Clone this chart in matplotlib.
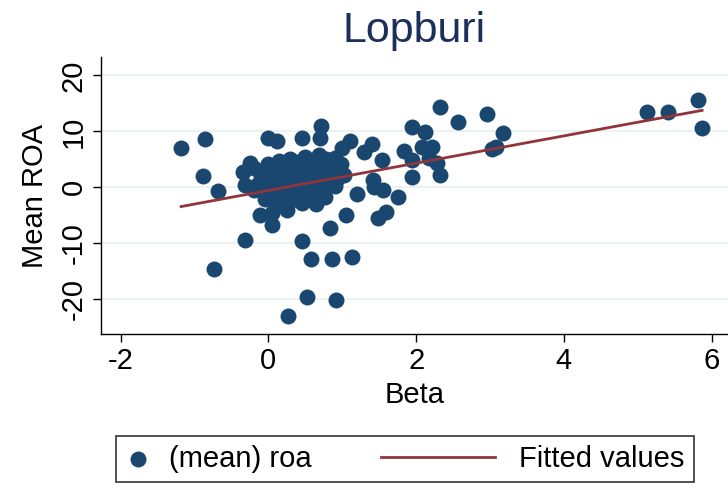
import numpy as np
import matplotlib
matplotlib.use('Agg')
import matplotlib.pyplot as plt
from matplotlib.legend_handler import HandlerLine2D

plt.rcParams['font.family'] = ['Liberation Sans', 'DejaVu Sans']
plt.rcParams['axes.unicode_minus'] = False

### Daten ###

beta = np.array([-1.18, -0.85, -0.88, -0.68, -0.73, -0.31, 0.26, 0.52, 0.92, 0.46,
                 0.58, 0.86, 1.13, 0.84, 1.05, 1.20, 1.49, 1.59, 1.76, 1.55,
                 1.43, 1.94, 2.32, 2.32, 2.57, 1.94, 2.12, 2.96, 3.17, 3.02,
                 3.08, 1.84, 2.08, 2.21, 1.94, 2.17, 2.28, 5.13, 5.41, 5.81,
                 5.87, 1.54, 1.40, 1.29, 1.11, 1.00, 0.71, 0.70, 0.45, -0.01,
                 0.12, -0.25, -0.34, -0.32, 0.00, -0.11, 0.05, 0.65, 0.77, 0.93,
                 0.43, 1.42, 0.29,
                 # dichter Haufen um 0
                 -0.20, -0.15, -0.10, -0.05, 0.00, 0.02, 0.05, 0.08, 0.10, 0.12,
                 0.15, 0.18, 0.20, 0.22, 0.25, 0.28, 0.30, 0.32, 0.35, 0.38,
                 0.40, 0.42, 0.45, 0.48, 0.50, 0.52, 0.55, 0.58, 0.60, 0.62,
                 0.65, 0.68, 0.70, 0.72, 0.75, 0.78, 0.80, 0.82, 0.85, 0.88,
                 0.90, 0.95, 0.98, 1.02, 0.60, 0.30, 0.15, -0.20, 0.05, 0.25,
                 0.45, 0.90, 0.70])

roa = np.array([7.0, 8.6, 2.1, -0.6, -14.6, -9.4, -23.0, -19.5, -20.2, -9.6,
                -12.8, -12.8, -12.5, -7.3, -5.0, -1.1, -5.4, -4.4, -1.7, -0.4,
                0.1, 1.9, 2.2, 14.4, 11.6, 10.8, 9.9, 13.1, 9.7, 6.8,
                7.2, 6.5, 7.2, 7.2, 4.9, 5.2, 4.4, 13.4, 13.4, 15.7,
                10.7, 4.9, 7.7, 6.3, 8.3, 7.0, 11.0, 8.8, 8.9, 8.9,
                8.3, 4.3, 2.8, 0.4, 4.1, -5.0, -6.7, -3.0, -1.8, 1.5,
                -2.3, 1.3, 4.0,
                -0.5, 0.5, 2.0, -2.0, -1.0, 0.0, 1.5, 3.0, -3.0, 0.7,
                -1.5, 3.5, -0.5, 2.3, 0.3, 4.0, -2.5, 2.8, -0.5, 2.2,
                4.5, -1.8, 0.5, 3.5, 5.5, 1.2, -0.8, 2.8, 4.8, 0.3,
                3.2, 5.8, 1.8, 4.0, 2.5, 5.0, 3.5, 0.8, 4.5, 2.0,
                5.2, 3.0, 4.2, 2.2, -1.5, 5.0, 4.8, 3.5, -4.5, -4.0,
                -2.8, 0.3, -0.5])

x_ticks = [-2, 0, 2, 4, 6]
y_ticks = [-20, -10, 0, 10, 20]

### Ausgleichsgerade ###
m, b = np.polyfit(beta, roa, 1)
x_fit = np.array([beta.min(), beta.max()])
print('Steigung, Achsenabschnitt: ', m, b)

navy = '#1A476F'
maroon = '#90353B'


class LangeLinie(HandlerLine2D):
    # Linie im Legendeneintrag nach links verlaengern
    def get_xdata(self, legend, xdescent, ydescent, width, height, fontsize):
        xdata = np.array([-xdescent - 67.7, -xdescent + width - 4.3])
        return xdata, xdata


fig = plt.figure(figsize=(7.28, 4.92), dpi=100)
ax = fig.add_axes([101 / 728, 158 / 492, 627 / 728, 277 / 492])

ax.grid(axis='y', color='#EAF2F3', lw=1.6)
ax.set_axisbelow(True)
punkte = ax.scatter(beta, roa, s=132, color=navy, linewidths=0, zorder=3, label='(mean) roa')
linie, = ax.plot(x_fit, m * x_fit + b, color=maroon, lw=2, zorder=4, label='Fitted values')

ax.set_xlim(-2.264, 6.22)
ax.set_ylim(-26.2, 23.3)
ax.set_xticks(x_ticks)
ax.set_yticks(y_ticks)
ax.tick_params(labelsize=21, length=6, width=1, color='black')
plt.setp(ax.get_yticklabels(), rotation=90, va='center')
ax.spines['top'].set_visible(False)
ax.spines['right'].set_visible(False)
ax.spines['left'].set_linewidth(1)
ax.spines['bottom'].set_linewidth(1)

ax.set_xlabel('Beta', fontsize=21, labelpad=4)
ax.set_ylabel('Mean ROA', fontsize=21, labelpad=8)
ax.set_title('Lopburi', fontsize=31, color='#1C2E5C', pad=11)

leg = fig.legend([punkte, linie], ['(mean) roa', 'Fitted values'],
                 handler_map={linie: LangeLinie()},
                 loc='upper left', bbox_to_anchor=(116 / 728, 1 - 436 / 492),
                 ncol=2, fontsize=21, frameon=True, fancybox=False,
                 handlelength=0.9, handletextpad=0.62, columnspacing=5.6,
                 borderpad=0.3, borderaxespad=0, scatterpoints=1)
leg.get_frame().set_edgecolor('black')
leg.get_frame().set_linewidth(1.2)

fig.savefig('out.png', dpi=100)
